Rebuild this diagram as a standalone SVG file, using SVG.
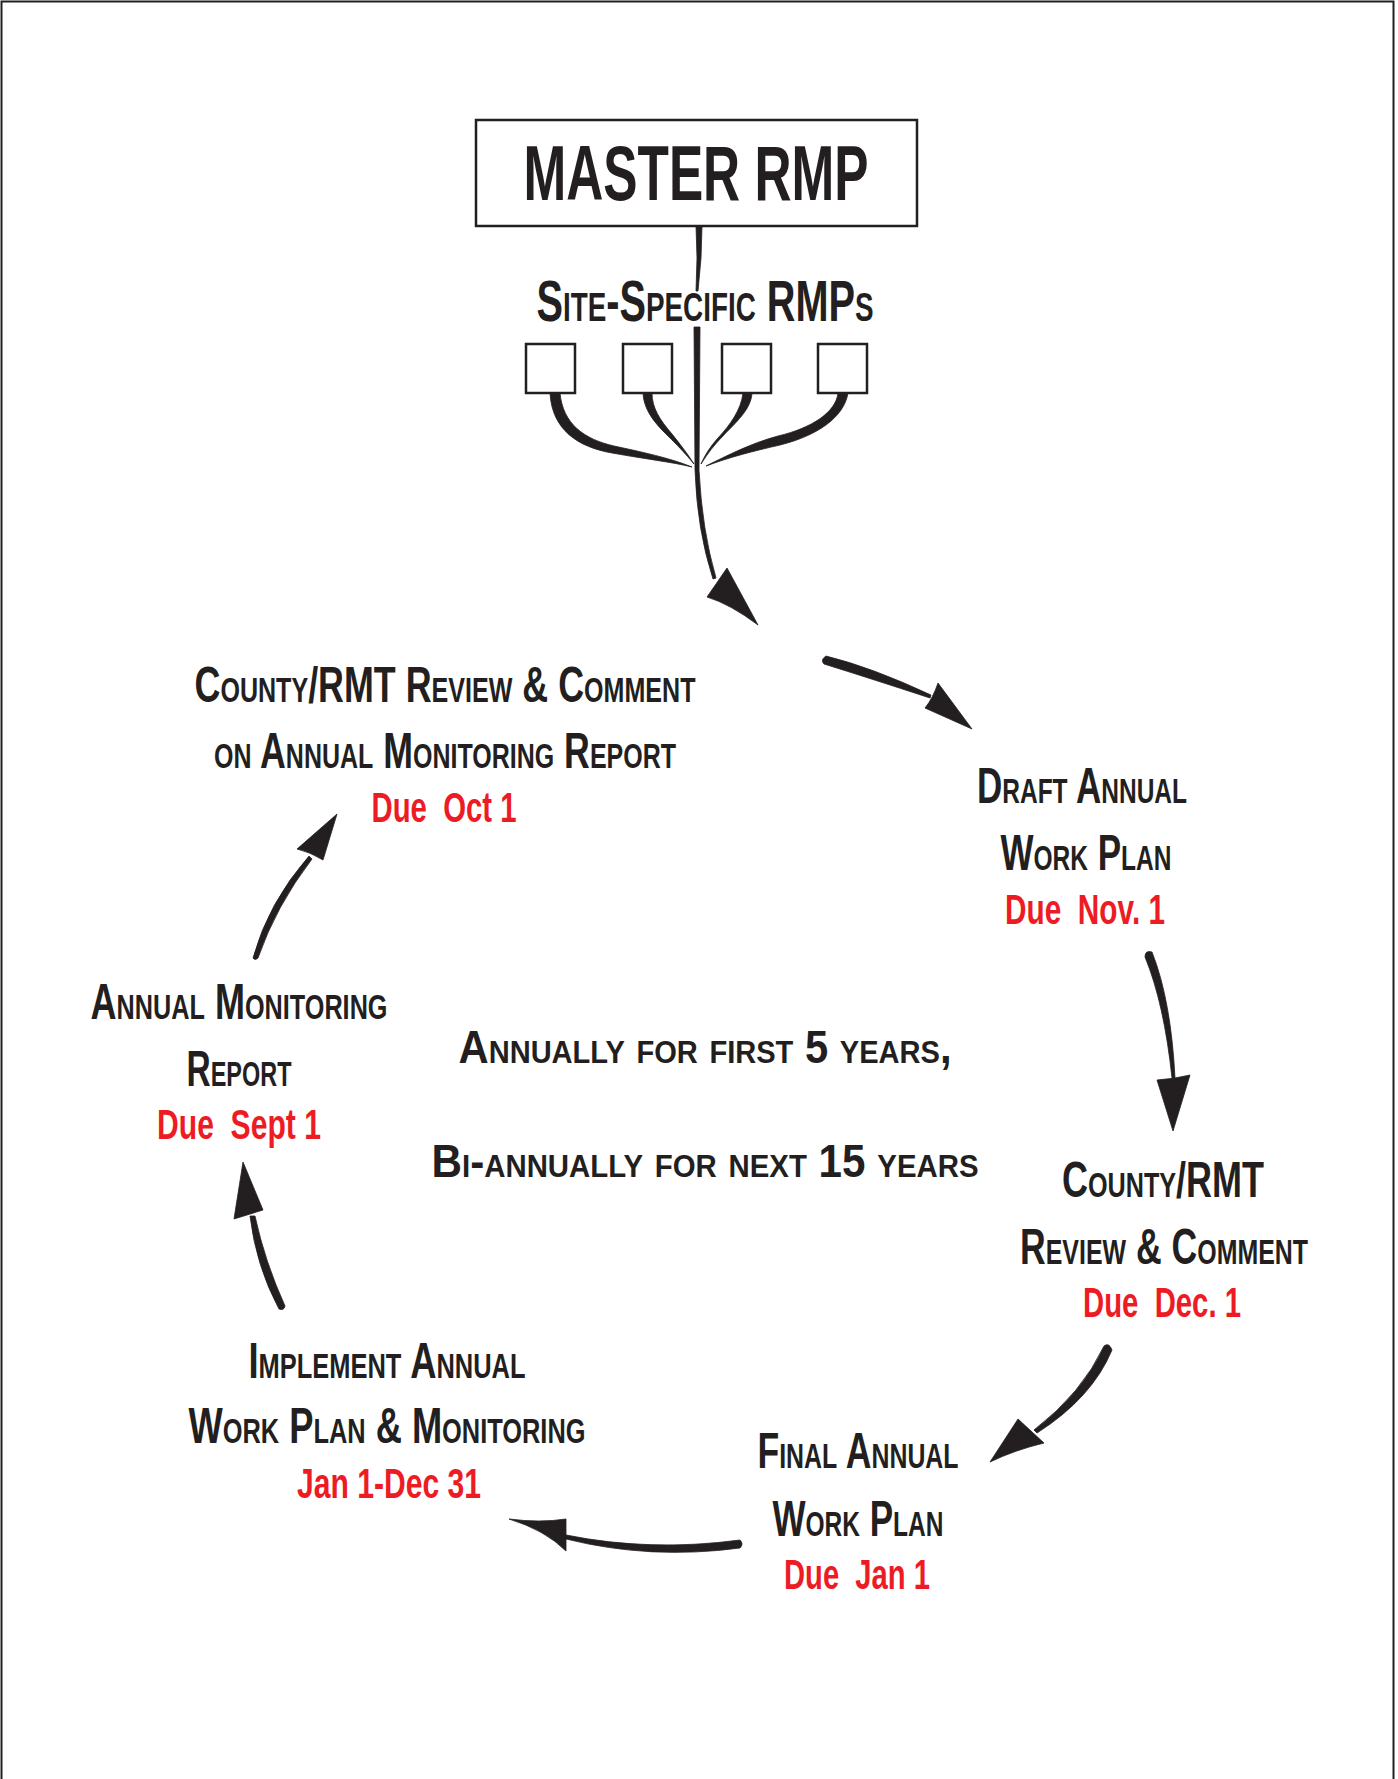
<svg xmlns="http://www.w3.org/2000/svg" width="1398" height="1779" viewBox="0 0 1398 1779">
<style>
.t{font-family:"Liberation Sans Narrow","Liberation Sans",Arial,sans-serif;font-weight:bold;fill:#231f20;font-variant:small-caps;text-anchor:middle;font-size:50px}
.r{font-family:"Liberation Sans Narrow","Liberation Sans",Arial,sans-serif;font-weight:bold;fill:#ed1c24;text-anchor:middle;font-size:42px;white-space:pre}
.m{font-family:"Liberation Sans",Arial,sans-serif;font-weight:bold;fill:#231f20;font-variant:small-caps;text-anchor:middle;font-size:46px}
.box{fill:#fff;stroke:#231f20;stroke-width:2.5}
.ink{fill:#231f20;stroke:#231f20;stroke-width:0.8;stroke-linejoin:round}
</style>
<rect x="1.5" y="1.5" width="1392" height="1800" fill="none" stroke="#231f20" stroke-width="2"/>

<g id="master-rmp">
<rect class="box" x="476" y="120" width="441" height="106"/>
<text class="t" x="696" y="200" style="font-size:78px;font-variant:normal" textLength="345" lengthAdjust="spacingAndGlyphs">MASTER RMP</text>
</g>

<g id="site-specific">
<text class="t" x="705" y="321" style="font-size:57px" textLength="337" lengthAdjust="spacingAndGlyphs">Site-Specific RMPs</text>
<rect class="box" x="526" y="344" width="49" height="49"/>
<rect class="box" x="623" y="344" width="49" height="49"/>
<rect class="box" x="722" y="344" width="49" height="49"/>
<rect class="box" x="818" y="344" width="49" height="49"/>
</g>

<g id="county-review-monitoring">
<text class="t" x="445" y="702" textLength="501" lengthAdjust="spacingAndGlyphs">County/RMT Review &amp; Comment</text>
<text class="t" x="445" y="768" textLength="462" lengthAdjust="spacingAndGlyphs">on Annual Monitoring Report</text>
<text class="r" x="444" y="822" xml:space="preserve" textLength="145" lengthAdjust="spacingAndGlyphs">Due  Oct 1</text>
</g>

<g id="draft-work-plan">
<text class="t" x="1082" y="803" textLength="210" lengthAdjust="spacingAndGlyphs">Draft Annual</text>
<text class="t" x="1086" y="870" textLength="171" lengthAdjust="spacingAndGlyphs">Work Plan</text>
<text class="r" x="1085" y="924" xml:space="preserve" textLength="160" lengthAdjust="spacingAndGlyphs">Due  Nov. 1</text>
</g>

<g id="annual-monitoring-report">
<text class="t" x="239" y="1019" textLength="297" lengthAdjust="spacingAndGlyphs">Annual Monitoring</text>
<text class="t" x="239" y="1086" textLength="105" lengthAdjust="spacingAndGlyphs">Report</text>
<text class="r" x="239" y="1139" xml:space="preserve" textLength="164" lengthAdjust="spacingAndGlyphs">Due  Sept 1</text>
</g>

<g id="frequency-note">
<text class="m" x="705" y="1063" textLength="493" lengthAdjust="spacingAndGlyphs">Annually for first 5 years,</text>
<text class="m" x="705" y="1177" textLength="547" lengthAdjust="spacingAndGlyphs">Bi-annually for next 15 years</text>
</g>

<g id="county-review-comment">
<text class="t" x="1163" y="1197" textLength="202" lengthAdjust="spacingAndGlyphs">County/RMT</text>
<text class="t" x="1164" y="1264" textLength="288" lengthAdjust="spacingAndGlyphs">Review &amp; Comment</text>
<text class="r" x="1162" y="1317" xml:space="preserve" textLength="158" lengthAdjust="spacingAndGlyphs">Due  Dec. 1</text>
</g>

<g id="implement-work-plan">
<text class="t" x="387" y="1378" textLength="277" lengthAdjust="spacingAndGlyphs">Implement Annual</text>
<text class="t" x="387" y="1443" textLength="397" lengthAdjust="spacingAndGlyphs">Work Plan &amp; Monitoring</text>
<text class="r" x="389" y="1498" textLength="184" lengthAdjust="spacingAndGlyphs">Jan 1-Dec 31</text>
</g>

<g id="final-work-plan">
<text class="t" x="858" y="1468" textLength="201" lengthAdjust="spacingAndGlyphs">Final Annual</text>
<text class="t" x="858" y="1536" textLength="171" lengthAdjust="spacingAndGlyphs">Work Plan</text>
<text class="r" x="857" y="1589" xml:space="preserve" textLength="146" lengthAdjust="spacingAndGlyphs">Due  Jan 1</text>
</g>

<g id="connectors">
<path class="ink" d="M696,226 L702,226 L701,258 L698,291 L696,291 L697,258 Z"/>
<path class="ink" d="M694,327 L700,327 L699,470 Q702,530 716,578 L713,579 Q697,530 695,470 Z"/>
<path class="ink" d="M550,393 C552,430 578,447 612,453 C645,459 672,462 692,467 C670,458 642,452 614,446 C584,439 563,424 560,393 Z"/>
<path class="ink" d="M643,393 C644,414 660,428 674,442 C683,451 689,458 694,464 C687,453 680,444 672,434 C660,420 652,408 652,393 Z"/>
<path class="ink" d="M743,393 C741,410 730,425 718,438 C710,447 705,455 701,464 C708,453 714,445 723,436 C735,423 751,410 752,393 Z"/>
<path class="ink" d="M838,393 C836,412 812,428 778,436 C752,443 728,455 706,466 C730,457 754,451 780,445 C816,436 844,418 848,393 Z"/>
<path class="ink" d="M727,568 L758,625 Q730,604 707,597 Q716,584 727,568 Z"/>
<path class="ink" d="M826,656 Q871,667 931,695 L930,698 Q869,678 824,664 Q820,660 826,656 Z"/>
<path class="ink" d="M972,729 L938,683 Q933,698 925,708 Z"/>
<path class="ink" d="M1145,957 Q1164,1003 1172,1078 L1175,1078 Q1171,1000 1152,952 Q1145,950 1145,957 Z"/>
<path class="ink" d="M1157,1080 Q1174,1079 1190,1075 L1173,1131 Z"/>
<path class="ink" d="M1104,1346 Q1082,1393 1034,1430 L1037,1433 Q1092,1398 1112,1350 Q1109,1342 1104,1346 Z"/>
<path class="ink" d="M1018,1419 L1044,1443 Q1015,1450 990,1462 Z"/>
<path class="ink" d="M740,1540 Q650,1552 566,1535 L566,1539 Q650,1560 740,1548 Q744,1544 740,1540 Z"/>
<path class="ink" d="M509,1519 Q540,1523 566,1519 L566,1551 Q545,1530 509,1519 Z"/>
<path class="ink" d="M279,1309 Q256,1266 250,1216 L255,1216 Q265,1262 285,1306 Q284,1311 279,1309 Z"/>
<path class="ink" d="M243,1162 L263,1210 L234,1219 Z"/>
<path class="ink" d="M253,958 Q268,903 309,856 L312,859 Q276,906 258,958 Q255,961 253,958 Z"/>
<path class="ink" d="M337,814 L323,860 Q310,852 297,849 Z"/>
</g>
</svg>
